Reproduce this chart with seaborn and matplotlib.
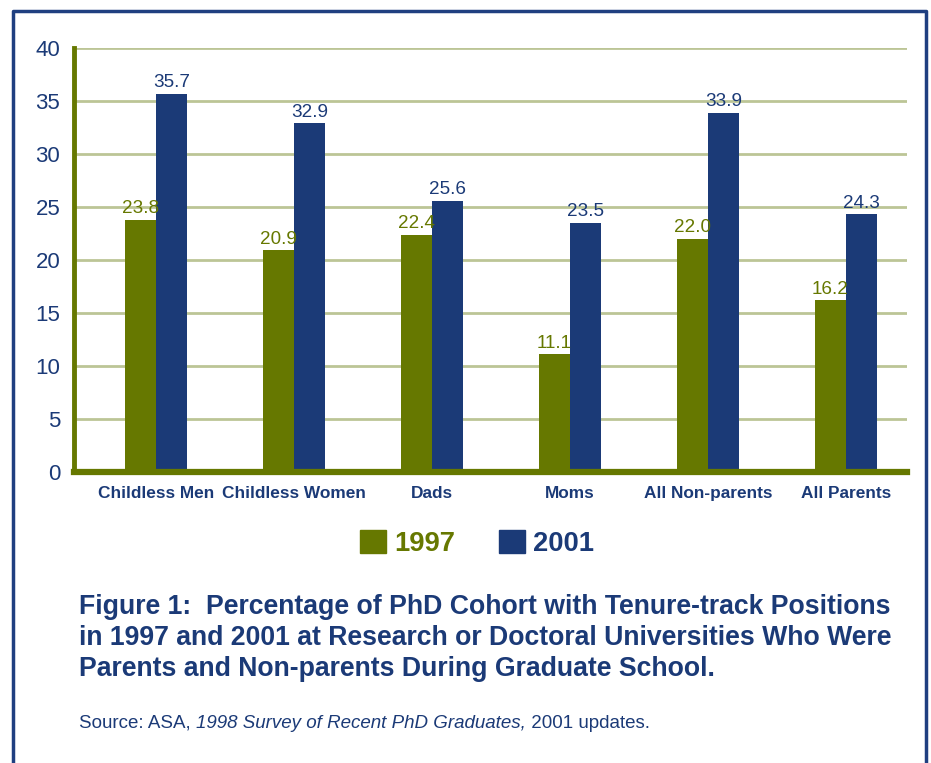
import pandas as pd
import matplotlib.pyplot as plt
import seaborn as sns
from matplotlib.lines import Line2D

categories = ["Childless Men", "Childless Women", "Dads", "Moms",
              "All Non-parents", "All Parents"]
v1997 = [23.8, 20.9, 22.4, 11.1, 22.0, 16.2]
v2001 = [35.7, 32.9, 25.6, 23.5, 33.9, 24.3]
years = ["1997", "2001"]
yticks = [0, 5, 10, 15, 20, 25, 30, 35, 40]

olive = "#667800"
blue = "#1b3a77"
grid_c = "#bcc596"

df = pd.DataFrame({
    "Group": categories * 2,
    "Year": [years[0]] * len(categories) + [years[1]] * len(categories),
    "Pct": v1997 + v2001,
})

sns.set_style("white")
plt.rcParams["font.family"] = ["Liberation Sans", "DejaVu Sans"]

fig = plt.figure(figsize=(9.31, 7.63), dpi=100)
ax = fig.add_axes([0.0795, 0.3814, 0.8945, 0.5556])

sns.barplot(data=df, x="Group", y="Pct", hue="Year", order=categories,
            hue_order=years, palette=[olive, blue], width=0.45,
            saturation=1, linewidth=0, ax=ax, legend=False)

for cont, col in zip(ax.containers, [olive, blue]):
    ax.bar_label(cont, fmt="%.1f", padding=2, color=col, fontsize=13.6)

ax.set_ylim(0, 40)
ax.set_xlim(-0.594, 5.44)
ax.set_yticks(yticks)
ax.set_axisbelow(True)
ax.yaxis.grid(True, color=grid_c, lw=2)
ax.set_xlabel("")
ax.set_ylabel("")
for s in ["top", "right"]:
    ax.spines[s].set_visible(False)
ax.spines["left"].set_color(olive)
ax.spines["left"].set_linewidth(3.5)
ax.spines["bottom"].set_color(olive)
ax.spines["bottom"].set_linewidth(4.5)
ax.tick_params(axis="both", length=0, colors=blue)
ax.tick_params(axis="y", labelsize=16, pad=10)
ax.tick_params(axis="x", labelsize=12.4, pad=10)
for lab in ax.get_xticklabels():
    lab.set_fontweight("bold")

handles = [plt.Rectangle((0, 0), 1, 1, color=olive),
           plt.Rectangle((0, 0), 1, 1, color=blue)]
leg = fig.legend(handles, years, loc="center", bbox_to_anchor=(0.512, 0.288),
                 ncol=2, frameon=False, handlelength=0.95, handleheight=0.95,
                 handletextpad=0.3, columnspacing=1.6,
                 prop={"size": 19.7, "weight": "bold"})
for t, col in zip(leg.get_texts(), [olive, blue]):
    t.set_color(col)

fig.text(0.0849, 1 - 638 / 763,
         "Figure 1:  Percentage of PhD Cohort with Tenure-track Positions\n"
         "in 1997 and 2001 at Research or Doctoral Universities Who Were\n"
         "Parents and Non-parents During Graduate School.",
         color=blue, fontsize=19.2, fontweight="bold", va="center", ha="left",
         linespacing=1.25)

t1 = fig.text(0.0849, 1 - 728 / 763, "Source: ASA, ", color=blue,
              fontsize=13.5, va="baseline")
a1 = ax.annotate("1998 Survey of Recent PhD Graduates,", xy=(1, 0),
                 xycoords=t1, va="bottom", ha="left", color=blue,
                 fontsize=13.5, style="italic", annotation_clip=False)
ax.annotate(" 2001 updates.", xy=(1, 0), xycoords=a1, va="bottom",
            ha="left", color=blue, fontsize=13.5, annotation_clip=False)

frame = "#1f3f80"
x0, x1, ytop = 12.5 / 931, 925.5 / 931, 1 - 11 / 763
fig.add_artist(Line2D([x0, x0, x1, x1], [0, ytop, ytop, 0],
                      transform=fig.transFigure, color=frame, lw=2.5))

fig.savefig("out.png", dpi=100)
